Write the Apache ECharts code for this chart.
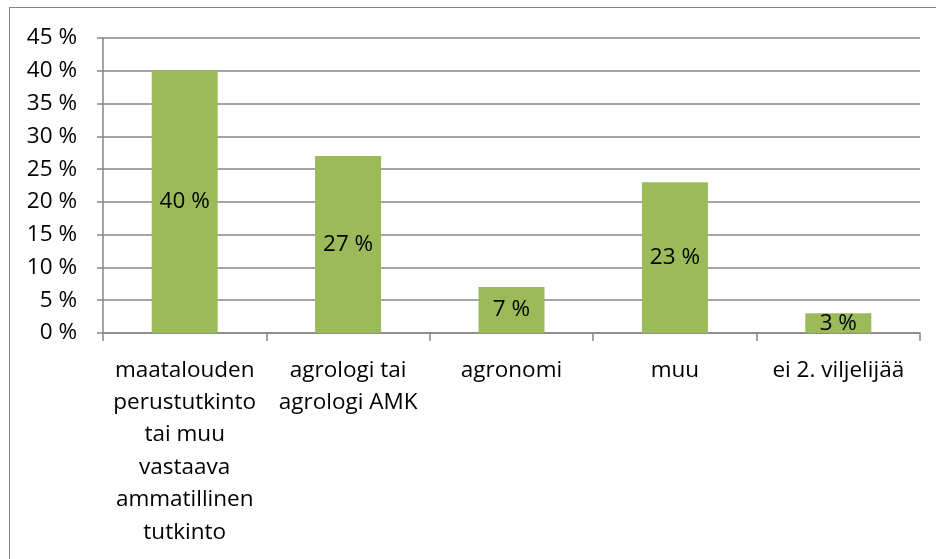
<!DOCTYPE html>
<html>
<head>
<meta charset="utf-8">
<script src="https://cdn.jsdelivr.net/npm/echarts@6/dist/echarts.min.js"></script>
<style>
  html, body { margin: 0; padding: 0; background: #fff; overflow: hidden; width: 936px; height: 559px; }
  #frame { position: absolute; left: 9px; top: 7px; width: 960px; height: 600px; border: 1.5px solid #868686; }
  #chart { position: absolute; left: 0; top: 0; width: 936px; height: 559px; }
</style>
</head>
<body>
<div id="frame"></div>
<div id="chart"></div>
<script>
  // kategoriat ja osuudet (%)
  const categories = [
    'maatalouden\nperustutkinto\ntai muu\nvastaava\nammatillinen\ntutkinto',
    'agrologi tai\nagrologi AMK',
    'agronomi',
    'muu',
    'ei 2. viljelijää'
  ];
  const shares = [40, 27, 7, 23, 3];
  const yMin = 0;
  const yMax = 45;
  const yStep = 5;

  const myChart = echarts.init(document.getElementById('chart'), null, { renderer: 'canvas' });
  const font = '"Open Sans", "Noto Sans", sans-serif';

  let option = {
    animation: false,
    grid: {
      left: 103,
      right: 16,
      top: 38,
      bottom: 226
    },
    xAxis: {
      type: 'category',
      data: categories,
      axisLine: { lineStyle: { color: '#868686', width: 1.5 } },
      axisTick: { show: true, length: 8, lineStyle: { color: '#868686', width: 1.5 } },
      axisLabel: {
        interval: 0,
        margin: 21,
        color: '#000',
        fontFamily: font,
        fontSize: 22.5,
        lineHeight: 32.4
      }
    },
    yAxis: {
      type: 'value',
      min: yMin,
      max: yMax,
      interval: yStep,
      axisLine: { show: true, lineStyle: { color: '#868686', width: 1.5 } },
      axisTick: { show: true, length: 6, lineStyle: { color: '#868686', width: 1.5 } },
      splitLine: { lineStyle: { color: '#868686', width: 1.5 } },
      axisLabel: {
        formatter: '{value} %',
        margin: 26,
        color: '#000',
        fontFamily: font,
        fontSize: 22.5
      }
    },
    series: [
      {
        type: 'bar',
        data: shares,
        barWidth: 66,
        itemStyle: { color: '#9BBB59' },
        label: {
          show: true,
          position: 'inside',
          formatter: '{c} %',
          color: '#000',
          fontFamily: font,
          fontSize: 22.5
        }
      }
    ]
  };

  option && myChart.setOption(option);
</script>
</body>
</html>
